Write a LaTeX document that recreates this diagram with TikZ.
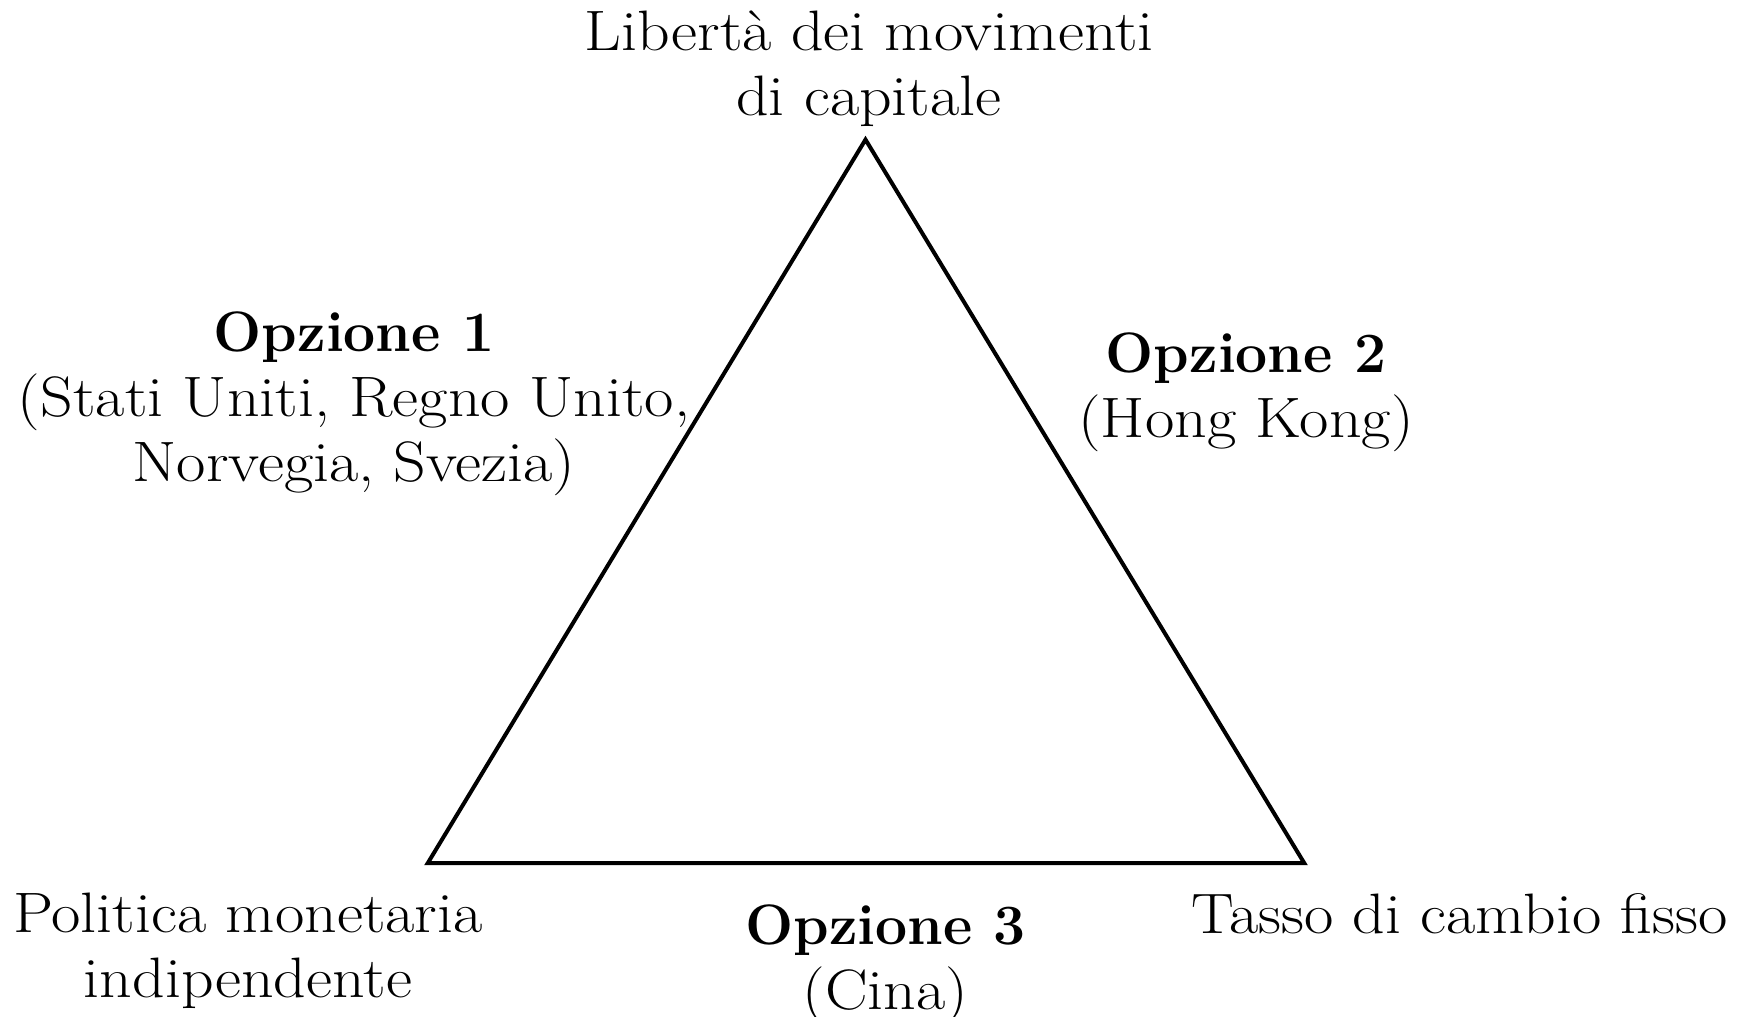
\documentclass[tikz,border=0pt]{standalone}
\usepackage{fontspec}
\newfontfamily\widerm{Latin Modern Roman}[FakeStretch=1.12]
\begin{document}
\begin{tikzpicture}[x=0.5pt,y=-0.5pt,
  lbl/.style={align=center,inner sep=0pt,font=\fontsize{28.5}{32.4}\selectfont\widerm},
  edge/.style={line width=2pt,line join=miter}]
\useasboundingbox (0,0) rectangle (1751,1017);
\coordinate (top) at (865.5,139.6);
\coordinate (bl) at (427.7,863.2);
\coordinate (br) at (1304.3,863.2);
\draw[edge] (top) -- (br) -- (bl) -- cycle;
\node[lbl] (cap) at (869,69) {Libertà dei movimenti\\di capitale};
\node[lbl] (o1) at (354,404) {{\normalfont\bfseries Opzione 1}\\(Stati Uniti, Regno Unito,\\Norvegia, Svezia)};
\node[lbl] (o2) at (1246,392) {{\normalfont\bfseries Opzione 2}\\(Hong Kong)};
\node[lbl] (pol) at (248,951) {Politica monetaria\\indipendente};
\node[lbl] (o3) at (885.5,964) {{\normalfont\bfseries Opzione 3}\\(Cina)};
\node[lbl] (tas) at (1459.5,914) {Tasso di cambio fisso};
\end{tikzpicture}
\end{document}
